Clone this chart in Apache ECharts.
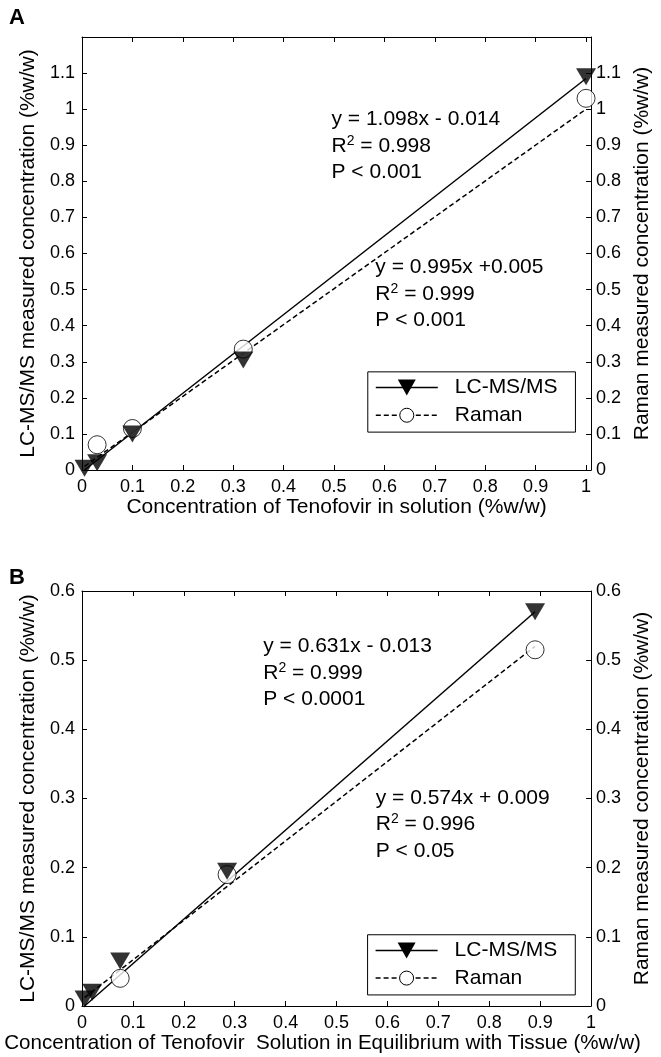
<!DOCTYPE html>
<html><head><meta charset="utf-8">
<script src="https://cdn.jsdelivr.net/npm/echarts@6/dist/echarts.min.js"></script>
<style>html,body{margin:0;padding:0;background:#fff}#c{width:661px;height:1057px}</style>
</head><body><div id="c"></div>
<script>
// ---------- Panel A data ----------
const aConc      = [0.005, 0.03, 0.1, 0.32, 1.0];
const aLcms      = [0.005, 0.02, 0.10, 0.305, 1.09];
const aRamanX    = [0.03, 0.1, 0.32, 1.0];
const aRaman     = [0.07, 0.115, 0.335, 1.03];
const aLcmsFit   = [[0.005, 0.0], [1.0, 1.085]];
const aRamanFit  = [[0.005, 0.01], [1.0, 1.0]];
// ---------- Panel B data ----------
const bConc      = [0.005, 0.02, 0.075, 0.285, 0.89];
const bLcms      = [0.01, 0.02, 0.065, 0.195, 0.57];
const bRamanX    = [0.075, 0.285, 0.89];
const bRaman     = [0.04, 0.19, 0.515];
const bLcmsFit   = [[0.005, 0.0], [0.89, 0.57]];
const bRamanFit  = [[0.005, 0.012], [0.89, 0.52]];
// ---------- text ----------
const aEq1 = ['y = 1.098x - 0.014', '0.998', 'P < 0.001'];
const aEq2 = ['y = 0.995x +0.005', '0.999', 'P < 0.001'];
const bEq1 = ['y = 0.631x - 0.013', '0.999', 'P < 0.0001'];
const bEq2 = ['y = 0.574x + 0.009', '0.996', 'P < 0.05'];
const legendNames = ['LC-MS/MS', 'Raman'];
const yTitleL = 'LC-MS/MS measured concentration (%w/w)';
const yTitleR = 'Raman measured concentration (%w/w)';
const xTitleA = 'Concentration of Tenofovir in solution (%w/w)';
const xTitleB = 'Concentration of Tenofovir  Solution in Equilibrium with Tissue (%w/w)';

const FONT = '"Liberation Sans", Arial, sans-serif';
const TICK_FS = 18, TITLE_FS = 21, TEXT_FS = 21;
const chart = echarts.init(document.getElementById('c'), null, {renderer: 'canvas'});

function pair(xs, ys){ return xs.map((x,i)=>[x, ys[i]]); }
function fmt(v){ return (Math.round(v*10)/10).toString(); }

function baseAxis(){
  return {
    axisLine: {onZero:false, lineStyle:{color:'#000', width:1}},
    axisTick: {inside:true, length:5, lineStyle:{color:'#000'}},
    splitLine: {show:false},
    axisLabel: {color:'#000', fontSize:TICK_FS, fontFamily:FONT, formatter: fmt}
  };
}
function xAx(grid, max, name, pos, showMax, nameStyle){
  const o = Object.assign(baseAxis(), {
    type:'value', gridIndex:grid, min:0, max:max, interval:0.1, position:pos
  });
  Object.assign(o.axisLabel, {show: pos==='bottom', margin:8, showMaxLabel: showMax});
  if (pos==='bottom'){ o.name = name; o.nameLocation='middle'; o.nameGap=26;
    o.nameTextStyle=Object.assign({color:'#000', fontSize:TITLE_FS, fontFamily:FONT}, nameStyle || {}); }
  return o;
}
function yAx(grid, max, name, pos, gap, showMax){
  const o = Object.assign(baseAxis(), {
    type:'value', gridIndex:grid, min:0, max:max, interval:0.1, position:pos,
    name:name, nameLocation:'middle', nameGap:gap,
    nameTextStyle:{color:'#000', fontSize:TITLE_FS, fontFamily:FONT}
  });
  Object.assign(o.axisLabel, {margin: pos==='left' ? 7 : 5, showMaxLabel: showMax});
  return o;
}

const triStyle = {color:'#000'};
const circStyle = {color:'#fff', borderColor:'#000', borderWidth:1};

function panelSeries(xi, yi, conc, lc, rx, rm, lcFit, rmFit){
  return [
    {type:'line', xAxisIndex:xi, yAxisIndex:yi, data:rmFit, symbol:'none',
     lineStyle:{color:'#000', width:1.5, type:[5,3]}, z:2, silent:true},
    {type:'line', xAxisIndex:xi, yAxisIndex:yi, data:lcFit, symbol:'none',
     lineStyle:{color:'#000', width:1.5}, z:2, silent:true},
    {type:'scatter', xAxisIndex:xi, yAxisIndex:yi, data:pair(rx, rm), symbol:'circle',
     symbolSize:18, itemStyle:circStyle, z:3},
    {type:'scatter', xAxisIndex:xi, yAxisIndex:yi, data:pair(conc, lc), symbol:'triangle',
     symbolRotate:180, symbolSize:[20,17], itemStyle:triStyle, z:4}
  ];
}

chart.setOption({
  animation:false,
  backgroundColor:'#fff',
  grid:[
    {left:82, top:37, width:528, height:433},
    {left:82, top:591, width:528, height:415}
  ],
  xAxis:[
    xAx(0, 1.01, xTitleA, 'bottom', false), xAx(0, 1.01, '', 'top', false),
    xAx(1, 1.0, xTitleB, 'bottom', true, {fontSize:20.6, padding:[0,28,0,0]}), xAx(1, 1.0, '', 'top', true)
  ],
  yAxis:[
    yAx(0, 1.2, yTitleL, 'left', 43, false), yAx(0, 1.2, yTitleR, 'right', 28, false),
    yAx(1, 0.6, yTitleL, 'left', 43, true), yAx(1, 0.6, yTitleR, 'right', 28, true)
  ],
  series:[].concat(
    panelSeries(0, 0, aConc, aLcms, aRamanX, aRaman, aLcmsFit, aRamanFit),
    panelSeries(2, 2, bConc, bLcms, bRamanX, bRaman, bLcmsFit, bRamanFit)
  )
});

function px(grid, x, y){ return chart.convertToPixel({gridIndex:grid}, [x, y]); }
const rich = {
  n:{fontSize:TEXT_FS, fontFamily:FONT, lineHeight:24, color:'#000'},
  s:{fontSize:14, fontFamily:FONT, lineHeight:14, verticalAlign:'top', color:'#000'}
};
function eqBlock(grid, x, y, lines){
  const p = px(grid, x, y);
  const f = TEXT_FS + 'px ' + FONT;
  return [
    {type:'text', x:p[0], y:p[1], style:{text:lines[0], font:f, fill:'#000'}},
    {type:'text', x:p[0], y:p[1]+25, style:{text:'{n|R}{s|2}{n| = '+lines[1]+'}', rich:rich}},
    {type:'text', x:p[0], y:p[1]+53, style:{text:lines[2], font:f, fill:'#000'}}
  ];
}
function legendBlock(grid, x0, y0, x1, y1){
  const a = px(grid, x0, y0), b = px(grid, x1, y1);
  const L = a[0], T = a[1], W = b[0]-a[0], H = b[1]-a[1];
  const r1 = T + H*0.26, r2 = T + H*0.72;
  const sx0 = L + 8, sx1 = L + 70, mx = (sx0+sx1)/2;
  const f = TEXT_FS + 'px ' + FONT;
  return [
    {type:'rect', shape:{x:L, y:T, width:W, height:H}, style:{fill:'#fff', stroke:'#000', lineWidth:1}, z:10},
    {type:'line', shape:{x1:sx0, y1:r1, x2:sx1, y2:r1}, style:{stroke:'#000', lineWidth:1.5}, z:11},
    {type:'polygon', shape:{points:[[mx-9,r1-8],[mx+9,r1-8],[mx,r1+8]]}, style:{fill:'#000'}, z:12},
    {type:'text', x:L+87, y:r1, style:{text:legendNames[0], font:f, fill:'#000', verticalAlign:'middle'}, z:12},
    {type:'line', shape:{x1:sx0, y1:r2, x2:sx1, y2:r2}, style:{stroke:'#000', lineWidth:1.5, lineDash:[5,3]}, z:11},
    {type:'circle', shape:{cx:mx, cy:r2, r:7}, style:{fill:'#fff', stroke:'#000', lineWidth:1}, z:12},
    {type:'text', x:L+87, y:r2, style:{text:legendNames[1], font:f, fill:'#000', verticalAlign:'middle'}, z:12}
  ];
}

const g = [].concat(
  [{type:'text', left:9, top:7, style:{text:'A', font:'bold 22px '+FONT, fill:'#000'}},
   {type:'text', left:9, top:567, style:{text:'B', font:'bold 22px '+FONT, fill:'#000'}}],
  eqBlock(0, 0.495, 1.0, aEq1),
  eqBlock(0, 0.582, 0.59, aEq2),
  eqBlock(1, 0.356, 0.535, bEq1),
  eqBlock(1, 0.577, 0.316, bEq2),
  legendBlock(0, 0.567, 0.272, 0.979, 0.105),
  legendBlock(1, 0.561, 0.103, 0.969, 0.016)
);
chart.setOption({graphic: g});
</script>
</body></html>
